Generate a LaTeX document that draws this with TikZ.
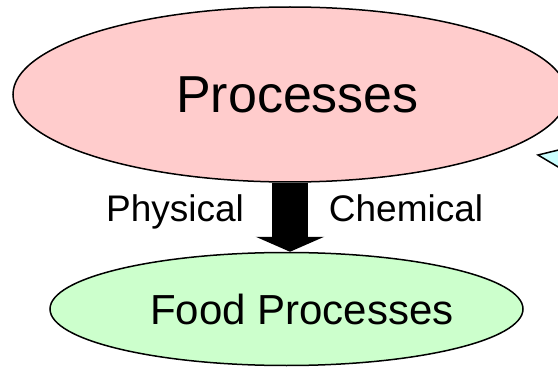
\documentclass[tikz,border=0pt]{standalone}
\usepackage{fontspec}
\setmainfont{Liberation Sans}
\usetikzlibrary{shapes.geometric,arrows.meta}
\definecolor{pinkfill}{HTML}{FFCCCC}
\definecolor{greenfill}{HTML}{CCFFCC}
\definecolor{cyanfill}{HTML}{CCFFFF}
\tikzset{
  blob/.style={ellipse, draw=black, line width=1.5pt, inner sep=0pt, text=black},
  lbl/.style={anchor=base, inner sep=0pt, font=\fontsize{37}{40}\selectfont},
  blockarrow/.style={line width=36pt, draw=black, -{Triangle[width=68pt,length=15pt]}}
}
\begin{document}
\begin{tikzpicture}[x=1pt,y=-1pt]
\clip (0,0) rectangle (558,369);
\fill[white] (0,0) rectangle (558,369);
% callout tip at right edge
\draw[line width=1.5pt, fill=cyanfill] (575,146) -- (538,155) -- (575,177);
\node[blob, fill=pinkfill, minimum width=554pt, minimum height=175pt,
      font=\fontsize{52}{56}\selectfont] (proc) at (290,94.5) {\hspace*{15pt}Processes};
\node[blob, fill=greenfill, minimum width=465pt, minimum height=113pt,
      font=\fontsize{42}{46}\selectfont] (food) at (286.5,309) {\hspace*{31pt}Food Processes};
\draw[blockarrow] (proc.south) -- (proc.south |- food.north);
\node[lbl] (phys) at (175,222) {Physical};
\node[lbl] (chem) at (406,222) {Chemical};
\end{tikzpicture}
\end{document}
